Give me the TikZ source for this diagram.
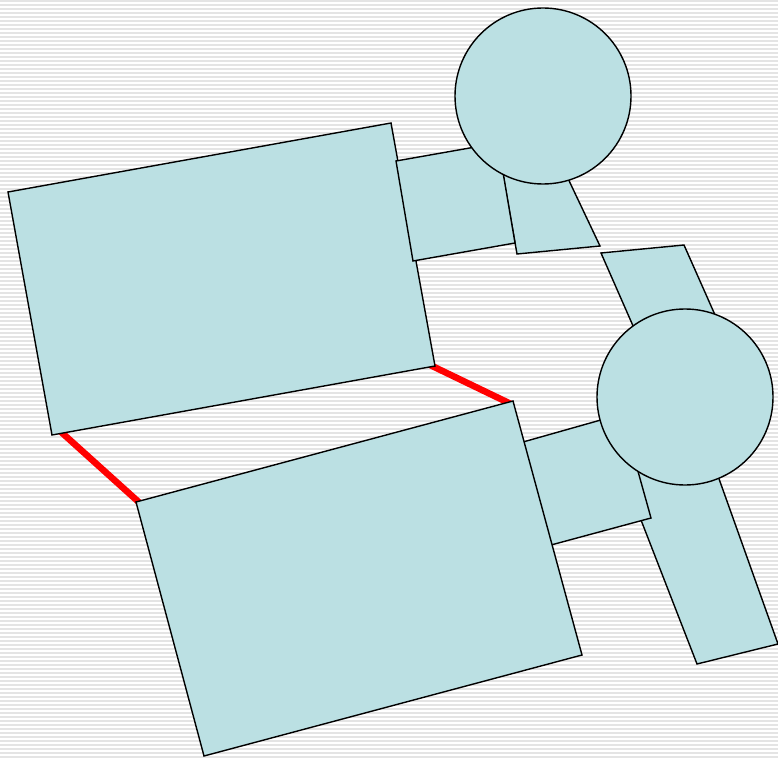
\documentclass[tikz,border=0pt]{standalone}
\usetikzlibrary{calc}
\definecolor{shapefill}{RGB}{187,224,227}
\definecolor{stripegray}{RGB}{228,228,228}
\tikzset{
  shapebox/.style={draw=black,fill=shapefill,line width=1.4pt,line join=miter},
  stripe/.style={draw=stripegray,line width=2pt},
  redlink/.style={draw=red,line width=6.5pt},
}
\begin{document}
\begin{tikzpicture}[x=1pt,y=-1pt]
\useasboundingbox (0,0) rectangle (778,759);
\fill[white] (0,0) rectangle (778,759);
\foreach \yy in {1,5,...,757} \draw[stripe] (0,\yy) -- (778,\yy);
% named anchor coordinates for the red connectors
\coordinate (ulBL) at (60,431);
\coordinate (llTL) at (142,505);
\coordinate (ulBR) at (428,364);
\coordinate (llTR) at (511,404);
\draw[redlink] (ulBL) -- (llTL);
\draw[redlink] (ulBR) -- (llTR);
% upper-left big rectangle
\draw[shapebox] (8,192) -- (391,123) -- (435,366) -- (52,435) -- cycle;
% trapezoid behind small rect 1
\draw[shapebox] (497,140) -- (545,130) -- (600,246) -- (517,254) -- cycle;
% small rect 1
\draw[shapebox] (396,161) -- (498,143) -- (515,243) -- (413,261) -- cycle;
% circle 1
\draw[shapebox] (543,96) circle[radius=88];
% upper-right quad
\draw[shapebox] (601,253) -- (684,245) -- (735,360) -- (648,360) -- cycle;
% long lower-right rect
\draw[shapebox] (606,430) -- (698,420) -- (778,644) -- (697,664) -- cycle;
% small rect 2
\draw[shapebox] (523,442) -- (622,414) -- (651,518) -- (551,545) -- cycle;
% circle 2
\draw[shapebox] (685,397) circle[radius=88];
% lower big rectangle
\draw[shapebox] (136,502) -- (513,401) -- (582,655) -- (204,756) -- cycle;
\end{tikzpicture}
\end{document}
